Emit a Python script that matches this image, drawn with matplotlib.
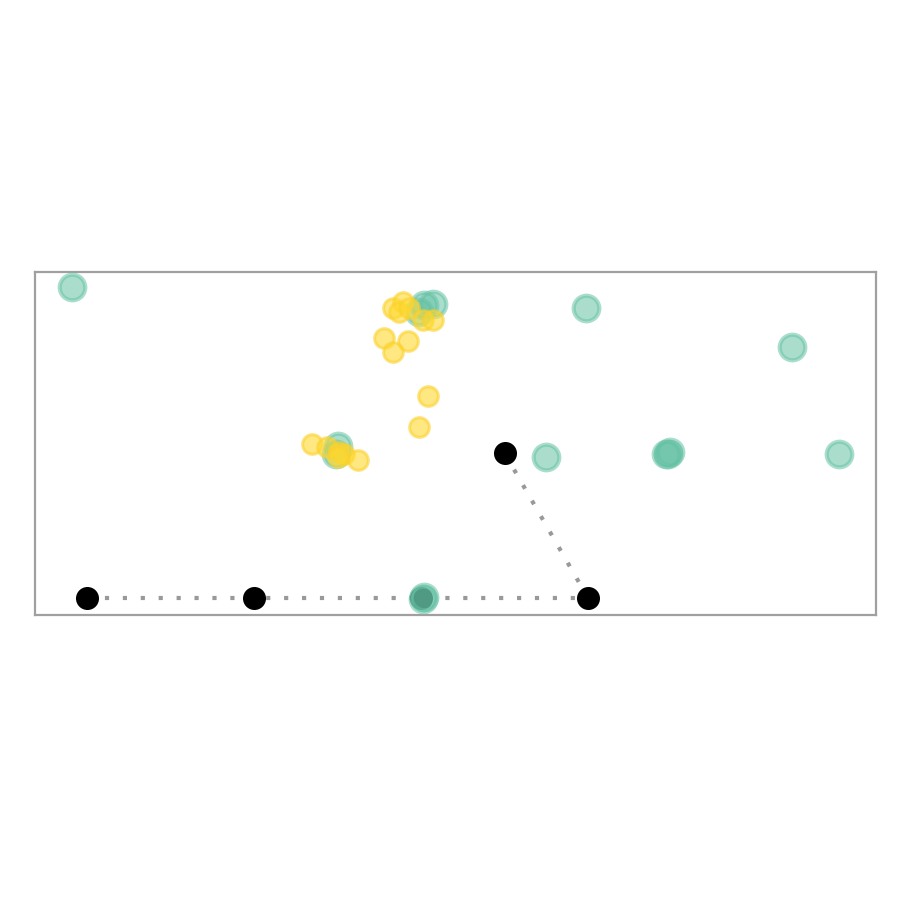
import matplotlib
matplotlib.use("Agg")
import matplotlib.pyplot as plt

# path of black nodes (joined by a dotted line)
path_x = [0, 1, 2, 3, 2.5]
path_y = [0, 0, 0, 0, 1]

# green observations
green_x = [-0.09, 2.99, 4.22, 4.50, 2.75, 3.47, 3.49, 3.48, 2.02, 2.01,
           1.50, 1.49, 2.02, 2.07, 1.99]
green_y = [2.145, 2.00, 1.73, 0.99, 0.97, 0.99, 1.01, 0.99, 0.01, -0.01,
           1.05, 0.99, 2.02, 2.03, 1.97]

# yellow observations
yellow_x = [1.83, 1.89, 1.87, 1.93, 2.01, 2.07, 1.78, 1.92, 1.83, 2.04,
            1.99, 1.35, 1.44, 1.51, 1.54, 1.62, 1.50]
yellow_y = [2.00, 2.04, 1.97, 2.00, 1.92, 1.92, 1.79, 1.77, 1.70, 1.39,
            1.18, 1.06, 1.04, 1.01, 0.99, 0.95, 0.97]

fig = plt.figure(figsize=(9, 9), dpi=100)
ax = fig.add_axes([35 / 900, 285 / 900, 841 / 900, 343 / 900])

ax.plot(path_x, path_y, color="#999999", lw=3.0, linestyle=(0, (1, 3.3)),
        zorder=1)
ax.scatter(path_x, path_y, s=275, color="black", linewidths=0, zorder=2)
ax.scatter(green_x, green_y, s=340, color="#66c2a5", alpha=0.55,
           linewidths=3.0, edgecolors="#66c2a5", zorder=3)
ax.scatter(yellow_x, yellow_y, s=200, color="#ffd92f", alpha=0.6,
           linewidths=2.2, edgecolors="#fcd12a", zorder=4)

ax.set_xlim((35 - 87) / 167, (876 - 87) / 167)
ax.set_ylim((598 - 615) / 145, (598 - 272) / 145)
ax.set_xticks([])
ax.set_yticks([])
for sp in ax.spines.values():
    sp.set_color("#a0a0a0")
    sp.set_linewidth(1.6)

fig.savefig("out.png", dpi=100)
